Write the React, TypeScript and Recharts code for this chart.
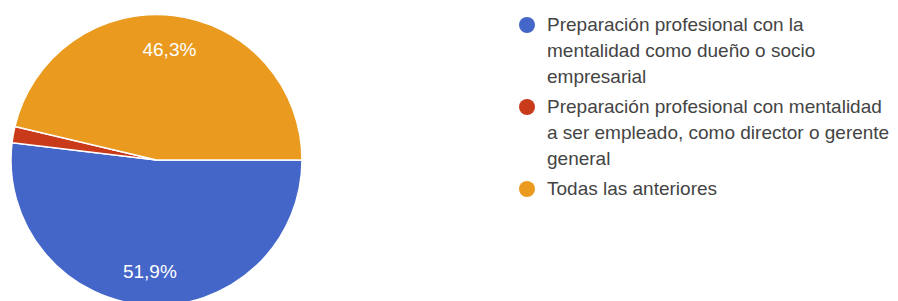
import { PieChart, Pie, Cell, Legend } from 'recharts'

const CATEGORIES = [
  'Preparación profesional con la mentalidad como dueño o socio empresarial',
  'Preparación profesional con mentalidad a ser empleado, como director o gerente general',
  'Todas las anteriores',
]
const VALUES = [51.9, 1.8, 46.3]
const LABELS = ['51,9%', '', '46,3%']
const COLORS = ['#4466c9', '#c93a1b', '#e99a1f']

const FONT = '"Liberation Sans", Arial, Helvetica, sans-serif'
const RAD = Math.PI / 180

const data = CATEGORIES.map((name, i) => ({
  name,
  value: VALUES[i],
  label: LABELS[i],
  color: COLORS[i],
}))

function SliceLabel(props: any) {
  const { cx, cy, midAngle, outerRadius, index } = props
  const text = LABELS[index]
  if (!text) return null
  const r = outerRadius * 0.765
  const x = cx + r * Math.cos(-midAngle * RAD)
  const y = cy + r * Math.sin(-midAngle * RAD)
  return (
    <text
      x={x}
      y={y}
      fill="#ffffff"
      textAnchor="middle"
      dominantBaseline="central"
      style={{ fontFamily: FONT, fontSize: 19 }}
    >
      {text}
    </text>
  )
}

function LegendList() {
  return (
    <div style={{ fontFamily: FONT, fontSize: 19, color: '#444', width: 372 }}>
      {data.map((d) => (
        <div key={d.name} style={{ display: 'flex', alignItems: 'flex-start', marginBottom: 4 }}>
          <span
            style={{
              width: 16,
              height: 16,
              borderRadius: '50%',
              background: d.color,
              flex: '0 0 16px',
              marginTop: 5,
              marginRight: 12,
            }}
          />
          <span style={{ lineHeight: '26px', width: 344 }}>{d.name}</span>
        </div>
      ))}
    </div>
  )
}

export default function App() {
  return (
    <div style={{ position: 'absolute', left: 0, top: 0, width: 898, height: 301, background: '#fff' }}>
      <PieChart width={898} height={301} margin={{ top: 0, right: 0, bottom: 0, left: 0 }}>
        <Pie
          data={data}
          dataKey="value"
          nameKey="name"
          cx={156.5}
          cy={160}
          outerRadius={145.5}
          startAngle={0}
          endAngle={-360}
          stroke="#ffffff"
          strokeWidth={1.5}
          label={SliceLabel}
          labelLine={false}
          isAnimationActive={false}
        >
          {data.map((entry) => (
            <Cell key={entry.name} fill={entry.color} />
          ))}
        </Pie>
        <Legend
          layout="vertical"
          content={() => <LegendList />}
          wrapperStyle={{ position: 'absolute', left: 519, top: 12, width: 372 }}
        />
      </PieChart>
    </div>
  )
}
